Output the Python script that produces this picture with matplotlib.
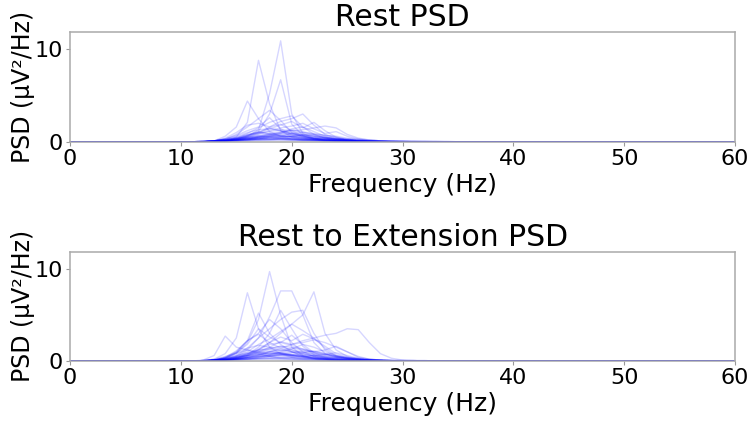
import numpy as np
import matplotlib.pyplot as plt

# PSD curves, one row per trace, values at 10..35 Hz.
# Outside that band every trace sits on zero (0 Hz and 60 Hz ends added below).
band_freqs = list(range(10, 36))

rest_psd = [
    [0, 0, 0, 0.1, 0.2, 0.3, 0.6, 1.3, 5.2, 10.9, 3.0, 0.9, 0.4, 0.3, 0.2, 0.1, 0.1, 0.05, 0, 0, 0, 0, 0, 0, 0, 0],
    [0, 0, 0, 0.1, 0.2, 0.5, 2.1, 8.8, 4.1, 1.2, 0.5, 0.3, 0.2, 0.1, 0.1, 0.05, 0, 0, 0, 0, 0, 0, 0, 0, 0, 0],
    [0, 0, 0, 0, 0.1, 0.3, 0.7, 1.1, 3.0, 6.7, 1.9, 0.7, 0.3, 0.2, 0.1, 0.1, 0.05, 0, 0, 0, 0, 0, 0, 0, 0, 0],
    [0, 0, 0, 0.1, 0.6, 1.6, 4.4, 2.5, 1.1, 0.6, 0.3, 0.2, 0.1, 0.1, 0.05, 0, 0, 0, 0, 0, 0, 0, 0, 0, 0, 0],
    [0, 0, 0, 0.1, 0.3, 0.8, 1.6, 2.5, 3.4, 2.3, 1.0, 0.5, 0.3, 0.2, 0.1, 0.05, 0, 0, 0, 0, 0, 0, 0, 0, 0, 0],
    [0, 0, 0, 0, 0.1, 0.3, 0.6, 1.0, 1.6, 2.2, 2.5, 3.0, 1.8, 0.8, 0.4, 0.2, 0.1, 0.05, 0, 0, 0, 0, 0, 0, 0, 0],
    [0, 0, 0, 0.1, 0.2, 0.4, 0.9, 1.5, 2.1, 2.5, 2.8, 1.6, 0.8, 0.4, 0.2, 0.1, 0.05, 0, 0, 0, 0, 0, 0, 0, 0, 0],
    [0, 0, 0, 0, 0.1, 0.2, 0.3, 0.5, 0.8, 1.0, 1.2, 1.3, 1.5, 1.7, 1.5, 0.8, 0.4, 0.2, 0.1, 0.05, 0, 0, 0, 0, 0, 0],
    [0, 0, 0, 0.1, 0.4, 1.0, 1.8, 2.0, 1.6, 1.9, 1.2, 0.6, 0.3, 0.2, 0.1, 0.05, 0, 0, 0, 0, 0, 0, 0, 0, 0, 0],
    [0, 0, 0, 0, 0.1, 0.3, 0.5, 0.9, 1.4, 1.8, 2.2, 1.5, 2.1, 1.2, 0.5, 0.2, 0.1, 0.05, 0, 0, 0, 0, 0, 0, 0, 0],
    [0, 0, 0, 0.1, 0.3, 0.7, 1.2, 1.6, 2.6, 1.4, 0.8, 0.6, 0.4, 0.3, 0.2, 0.1, 0.05, 0, 0, 0, 0, 0, 0, 0, 0, 0],
    [0, 0, 0, 0, 0.1, 0.2, 0.5, 0.8, 1.2, 1.5, 1.7, 2.0, 1.4, 0.9, 1.1, 0.6, 0.3, 0.1, 0.05, 0, 0, 0, 0, 0, 0, 0],
    [0, 0, 0.05, 0.1, 0.3, 0.6, 1.0, 1.3, 1.4, 1.2, 0.9, 0.6, 0.4, 0.3, 0.2, 0.1, 0.05, 0, 0, 0, 0, 0, 0, 0, 0, 0],
    [0, 0, 0, 0.1, 0.2, 0.4, 0.7, 0.9, 1.1, 1.3, 1.2, 1.0, 0.7, 0.5, 0.3, 0.2, 0.1, 0.05, 0, 0, 0, 0, 0, 0, 0, 0],
    [0, 0, 0.05, 0.1, 0.2, 0.4, 0.5, 0.7, 0.8, 0.9, 0.8, 0.7, 0.6, 0.5, 0.4, 0.3, 0.2, 0.1, 0.1, 0.05, 0.05, 0, 0, 0, 0, 0],
    [0, 0, 0, 0.05, 0.1, 0.2, 0.4, 0.6, 0.9, 1.1, 1.0, 0.8, 0.6, 0.4, 0.3, 0.2, 0.1, 0.05, 0, 0, 0, 0, 0, 0, 0, 0],
    [0, 0, 0.05, 0.1, 0.3, 0.5, 0.8, 1.0, 0.9, 0.7, 0.5, 0.4, 0.3, 0.2, 0.1, 0.05, 0, 0, 0, 0, 0, 0, 0, 0, 0, 0],
    [0, 0, 0, 0.05, 0.1, 0.2, 0.3, 0.5, 0.6, 0.8, 0.9, 1.0, 0.9, 0.7, 0.5, 0.3, 0.2, 0.1, 0.05, 0, 0, 0, 0, 0, 0, 0],
    [0, 0, 0, 0.05, 0.1, 0.2, 0.3, 0.4, 0.5, 0.6, 0.6, 0.5, 0.5, 0.4, 0.3, 0.3, 0.2, 0.2, 0.1, 0.1, 0.05, 0.05, 0, 0, 0, 0],
    [0, 0, 0.05, 0.1, 0.2, 0.3, 0.5, 0.6, 0.7, 0.6, 0.5, 0.4, 0.3, 0.2, 0.2, 0.1, 0.1, 0.05, 0, 0, 0, 0, 0, 0, 0, 0],
    [0, 0, 0, 0, 0.05, 0.1, 0.2, 0.3, 0.4, 0.5, 0.6, 0.7, 0.8, 0.7, 0.6, 0.4, 0.3, 0.2, 0.1, 0.1, 0.05, 0, 0, 0, 0, 0],
    [0, 0, 0.05, 0.1, 0.2, 0.3, 0.4, 0.4, 0.5, 0.4, 0.4, 0.3, 0.3, 0.2, 0.2, 0.1, 0.1, 0.05, 0.05, 0, 0, 0, 0, 0, 0, 0],
    [0, 0, 0, 0.05, 0.1, 0.2, 0.3, 0.4, 0.3, 0.3, 0.2, 0.2, 0.2, 0.1, 0.1, 0.1, 0.05, 0.05, 0, 0, 0, 0, 0, 0, 0, 0],
    [0, 0, 0, 0.05, 0.1, 0.3, 0.6, 1.0, 1.5, 1.2, 0.7, 0.4, 0.2, 0.1, 0.1, 0.05, 0, 0, 0, 0, 0, 0, 0, 0, 0, 0],
    [0, 0, 0, 0, 0.05, 0.1, 0.2, 0.4, 0.6, 0.9, 1.3, 1.1, 0.8, 0.5, 0.3, 0.2, 0.1, 0.05, 0, 0, 0, 0, 0, 0, 0, 0],
    [0, 0, 0.05, 0.1, 0.15, 0.2, 0.25, 0.3, 0.35, 0.35, 0.3, 0.3, 0.25, 0.2, 0.2, 0.15, 0.1, 0.1, 0.05, 0.05, 0.05, 0, 0, 0, 0, 0],
    [0, 0, 0, 0.05, 0.1, 0.15, 0.2, 0.3, 0.3, 0.4, 0.4, 0.3, 0.3, 0.3, 0.2, 0.2, 0.15, 0.1, 0.1, 0.05, 0.05, 0.05, 0.05, 0, 0, 0],
    [0, 0, 0, 0, 0.05, 0.1, 0.1, 0.2, 0.2, 0.3, 0.3, 0.2, 0.2, 0.2, 0.2, 0.15, 0.1, 0.1, 0.1, 0.05, 0.05, 0.05, 0.05, 0.05, 0, 0],
    [0, 0, 0.05, 0.1, 0.2, 0.4, 0.7, 1.1, 0.8, 0.6, 0.9, 0.7, 0.4, 0.2, 0.1, 0.05, 0, 0, 0, 0, 0, 0, 0, 0, 0, 0],
    [0, 0, 0, 0.05, 0.1, 0.2, 0.4, 0.5, 0.7, 1.0, 1.4, 1.6, 1.1, 0.6, 0.3, 0.2, 0.1, 0.05, 0, 0, 0, 0, 0, 0, 0, 0],
    [0, 0, 0, 0.05, 0.1, 0.15, 0.2, 0.25, 0.3, 0.3, 0.25, 0.2, 0.2, 0.15, 0.1, 0.1, 0.05, 0.05, 0, 0, 0, 0, 0, 0, 0, 0],
    [0, 0, 0, 0, 0.05, 0.05, 0.1, 0.15, 0.2, 0.2, 0.2, 0.15, 0.15, 0.1, 0.1, 0.1, 0.05, 0.05, 0.05, 0, 0, 0, 0, 0, 0, 0],
    [0, 0, 0.05, 0.1, 0.2, 0.3, 0.3, 0.2, 0.2, 0.2, 0.15, 0.1, 0.1, 0.1, 0.05, 0.05, 0, 0, 0, 0, 0, 0, 0, 0, 0, 0],
    [0, 0, 0, 0.05, 0.1, 0.2, 0.3, 0.5, 0.6, 0.5, 0.6, 0.8, 0.6, 0.4, 0.3, 0.2, 0.1, 0.1, 0.05, 0.05, 0, 0, 0, 0, 0, 0],
    [0, 0, 0, 0, 0.05, 0.1, 0.2, 0.3, 0.5, 0.7, 0.6, 0.5, 0.4, 0.4, 0.3, 0.2, 0.15, 0.1, 0.1, 0.05, 0.05, 0.05, 0.05, 0.05, 0.05, 0],
    [0, 0, 0, 0.05, 0.1, 0.2, 0.4, 0.6, 0.5, 0.4, 0.3, 0.2, 0.15, 0.1, 0.05, 0.05, 0, 0, 0, 0, 0, 0, 0, 0, 0, 0],
]

extension_psd = [
    [0, 0, 0, 0.1, 0.3, 0.8, 2.0, 4.5, 9.7, 5.0, 1.5, 0.6, 0.3, 0.2, 0.1, 0.05, 0, 0, 0, 0, 0, 0, 0, 0, 0, 0],
    [0, 0, 0, 0.2, 0.8, 2.5, 7.4, 3.5, 1.5, 0.8, 0.4, 0.2, 0.1, 0.05, 0, 0, 0, 0, 0, 0, 0, 0, 0, 0, 0, 0],
    [0, 0, 0, 0.1, 0.2, 0.5, 1.2, 2.5, 4.8, 7.6, 7.6, 5.0, 2.0, 0.8, 0.4, 0.2, 0.1, 0.05, 0, 0, 0, 0, 0, 0, 0, 0],
    [0, 0, 0, 0, 0.1, 0.3, 0.6, 1.2, 2.0, 3.0, 4.0, 5.0, 7.5, 3.0, 1.2, 0.5, 0.2, 0.1, 0, 0, 0, 0, 0, 0, 0, 0],
    [0, 0, 0, 0.1, 0.3, 0.6, 1.4, 2.5, 3.5, 4.5, 5.3, 5.5, 3.0, 1.2, 0.5, 0.2, 0.1, 0.05, 0, 0, 0, 0, 0, 0, 0, 0],
    [0, 0, 0, 0.1, 0.4, 1.0, 2.2, 3.0, 4.5, 3.5, 2.0, 1.0, 0.5, 0.2, 0.1, 0.05, 0, 0, 0, 0, 0, 0, 0, 0, 0, 0],
    [0, 0, 0.1, 0.6, 2.7, 1.5, 1.2, 0.8, 0.5, 0.3, 0.2, 0.1, 0.05, 0, 0, 0, 0, 0, 0, 0, 0, 0, 0, 0, 0, 0],
    [0, 0, 0, 0.05, 0.1, 0.2, 0.4, 0.7, 1.0, 1.4, 1.8, 2.2, 2.5, 2.8, 3.0, 3.5, 3.4, 2.0, 0.8, 0.3, 0.1, 0.05, 0, 0, 0, 0],
    [0, 0, 0, 0.1, 0.3, 0.9, 1.8, 3.5, 2.6, 2.0, 2.8, 1.8, 0.9, 0.4, 0.2, 0.1, 0.05, 0, 0, 0, 0, 0, 0, 0, 0, 0],
    [0, 0, 0, 0.1, 0.2, 0.5, 1.0, 1.8, 2.4, 3.2, 4.0, 3.3, 2.5, 1.4, 0.6, 0.3, 0.1, 0.05, 0, 0, 0, 0, 0, 0, 0, 0],
    [0, 0, 0, 0.1, 0.2, 0.4, 0.8, 1.3, 2.0, 2.6, 2.2, 2.9, 2.4, 1.6, 0.8, 0.4, 0.2, 0.1, 0.05, 0, 0, 0, 0, 0, 0, 0],
    [0, 0, 0, 0.1, 0.4, 1.1, 2.2, 2.9, 2.0, 1.4, 1.0, 0.6, 0.3, 0.2, 0.1, 0.05, 0, 0, 0, 0, 0, 0, 0, 0, 0, 0],
    [0, 0, 0, 0.05, 0.1, 0.3, 0.6, 1.0, 1.5, 2.1, 1.8, 2.0, 2.3, 2.0, 1.5, 1.0, 0.5, 0.2, 0.1, 0.05, 0, 0, 0, 0, 0, 0],
    [0, 0, 0, 0.1, 0.2, 0.4, 0.7, 1.2, 1.8, 2.0, 1.7, 1.3, 1.0, 1.2, 1.6, 1.0, 0.4, 0.2, 0.1, 0.05, 0, 0, 0, 0, 0, 0],
    [0, 0, 0, 0.1, 0.3, 0.9, 2.2, 5.2, 3.0, 1.8, 1.0, 0.5, 0.2, 0.1, 0.05, 0, 0, 0, 0, 0, 0, 0, 0, 0, 0, 0],
    [0, 0, 0, 0, 0.1, 0.3, 0.7, 1.5, 3.0, 5.5, 3.5, 1.6, 0.7, 0.3, 0.1, 0.05, 0, 0, 0, 0, 0, 0, 0, 0, 0, 0],
    [0, 0, 0.05, 0.2, 0.5, 0.9, 1.4, 1.7, 1.5, 1.2, 1.0, 0.8, 0.6, 0.4, 0.2, 0.1, 0.05, 0, 0, 0, 0, 0, 0, 0, 0, 0],
    [0, 0, 0, 0.1, 0.2, 0.4, 0.8, 1.1, 1.4, 1.6, 1.5, 1.3, 1.0, 0.7, 0.5, 0.3, 0.2, 0.1, 0.05, 0, 0, 0, 0, 0, 0, 0],
    [0, 0, 0.05, 0.1, 0.3, 0.6, 0.9, 1.2, 1.3, 1.1, 1.2, 1.0, 0.7, 0.5, 0.3, 0.2, 0.1, 0.05, 0, 0, 0, 0, 0, 0, 0, 0],
    [0, 0, 0, 0.05, 0.1, 0.3, 0.5, 0.7, 1.0, 1.2, 1.4, 1.2, 0.9, 0.6, 0.4, 0.3, 0.2, 0.1, 0.05, 0.05, 0, 0, 0, 0, 0, 0],
    [0, 0, 0.05, 0.1, 0.3, 0.5, 0.8, 0.9, 0.8, 0.7, 0.6, 0.5, 0.4, 0.3, 0.2, 0.1, 0.05, 0, 0, 0, 0, 0, 0, 0, 0, 0],
    [0, 0, 0, 0.05, 0.1, 0.2, 0.4, 0.6, 0.8, 0.9, 1.0, 0.9, 0.8, 0.7, 0.5, 0.4, 0.3, 0.2, 0.1, 0.05, 0.05, 0, 0, 0, 0, 0],
    [0, 0, 0.05, 0.1, 0.2, 0.4, 0.6, 0.7, 0.6, 0.6, 0.5, 0.5, 0.4, 0.3, 0.3, 0.2, 0.1, 0.1, 0.05, 0, 0, 0, 0, 0, 0, 0],
    [0, 0, 0, 0.05, 0.1, 0.2, 0.3, 0.4, 0.5, 0.6, 0.6, 0.7, 0.6, 0.5, 0.4, 0.3, 0.2, 0.1, 0.1, 0.05, 0.05, 0.05, 0, 0, 0, 0],
    [0, 0, 0.05, 0.1, 0.2, 0.3, 0.4, 0.5, 0.5, 0.4, 0.4, 0.3, 0.3, 0.2, 0.2, 0.1, 0.1, 0.05, 0, 0, 0, 0, 0, 0, 0, 0],
    [0, 0, 0, 0.05, 0.1, 0.15, 0.2, 0.3, 0.35, 0.4, 0.4, 0.35, 0.3, 0.3, 0.25, 0.2, 0.15, 0.1, 0.1, 0.05, 0.05, 0.05, 0.05, 0, 0, 0],
    [0, 0, 0, 0.05, 0.1, 0.2, 0.5, 0.9, 1.3, 1.6, 1.2, 0.8, 0.5, 0.3, 0.2, 0.1, 0.05, 0, 0, 0, 0, 0, 0, 0, 0, 0],
    [0, 0, 0, 0, 0.05, 0.1, 0.2, 0.4, 0.7, 1.0, 1.3, 1.8, 1.5, 1.0, 0.6, 0.3, 0.2, 0.1, 0.05, 0, 0, 0, 0, 0, 0, 0],
    [0, 0, 0.05, 0.1, 0.2, 0.25, 0.3, 0.3, 0.3, 0.25, 0.25, 0.2, 0.2, 0.15, 0.1, 0.1, 0.05, 0.05, 0, 0, 0, 0, 0, 0, 0, 0],
    [0, 0, 0, 0.05, 0.1, 0.1, 0.15, 0.2, 0.25, 0.3, 0.3, 0.25, 0.2, 0.2, 0.15, 0.15, 0.1, 0.1, 0.05, 0.05, 0.05, 0.05, 0, 0, 0, 0],
    [0, 0, 0.05, 0.15, 0.4, 0.8, 1.2, 1.0, 0.7, 0.9, 0.6, 0.4, 0.2, 0.1, 0.05, 0, 0, 0, 0, 0, 0, 0, 0, 0, 0, 0],
    [0, 0, 0, 0.05, 0.1, 0.2, 0.3, 0.5, 0.6, 0.8, 0.7, 0.9, 1.1, 0.8, 0.5, 0.3, 0.15, 0.1, 0.05, 0, 0, 0, 0, 0, 0, 0],
    [0, 0, 0, 0.05, 0.1, 0.2, 0.4, 0.6, 0.9, 0.8, 0.6, 0.5, 0.6, 0.7, 0.9, 0.6, 0.3, 0.15, 0.1, 0.05, 0, 0, 0, 0, 0, 0],
    [0, 0, 0.05, 0.1, 0.15, 0.2, 0.2, 0.2, 0.2, 0.15, 0.15, 0.1, 0.1, 0.1, 0.05, 0.05, 0, 0, 0, 0, 0, 0, 0, 0, 0, 0],
    [0, 0, 0, 0.05, 0.1, 0.3, 0.6, 1.0, 1.1, 0.9, 0.7, 0.5, 0.3, 0.2, 0.1, 0.05, 0, 0, 0, 0, 0, 0, 0, 0, 0, 0],
    [0, 0, 0, 0, 0.05, 0.1, 0.2, 0.3, 0.5, 0.7, 0.9, 1.1, 1.0, 0.8, 0.6, 0.4, 0.25, 0.15, 0.1, 0.05, 0.05, 0, 0, 0, 0, 0],
    [0, 0, 0.05, 0.1, 0.2, 0.4, 0.6, 0.8, 1.0, 0.8, 0.6, 0.4, 0.3, 0.2, 0.1, 0.05, 0, 0, 0, 0, 0, 0, 0, 0, 0, 0],
    [0, 0, 0, 0.05, 0.1, 0.2, 0.35, 0.5, 0.6, 0.7, 0.7, 0.6, 0.5, 0.4, 0.35, 0.25, 0.2, 0.1, 0.1, 0.05, 0.05, 0.05, 0.05, 0, 0, 0],
]

titles = ["Rest PSD", "Rest to Extension PSD"]
x_label = "Frequency (Hz)"
y_label = "PSD (µV²/Hz)"


def full_trace(values):
    # pad the band with the flat zero line seen from 0 to 60 Hz
    f = np.array([0] + band_freqs + [60])
    v = np.array([0] + list(values) + [0])
    return f, v


fig = plt.figure(figsize=(7.49, 4.22), dpi=100)
ax1 = fig.add_axes([0.0935, 0.664, 0.888, 0.260])
ax2 = fig.add_axes([0.0935, 0.1445, 0.888, 0.259])

for ax, data, title in zip([ax1, ax2], [rest_psd, extension_psd], titles):
    for row in data:
        f, v = full_trace(row)
        ax.plot(f, v, color="blue", alpha=0.16, linewidth=1.0, zorder=1)
    ax.set_xlim(0, 60)
    ax.set_ylim(0, 11.85)
    ax.set_xticks([0, 10, 20, 30, 40, 50, 60])
    ax.set_yticks([0, 10])
    ax.set_title(title, fontsize=21.5, pad=2)
    ax.set_xlabel(x_label, fontsize=18, labelpad=3)
    ax.set_ylabel(y_label, fontsize=17, labelpad=0)
    ax.tick_params(labelsize=16, color="#999999", length=3, pad=2)
    for s in ax.spines.values():
        s.set_color("#aaaaaa")
        s.set_linewidth(1.1)
        s.set_zorder(3)

plt.savefig("out.png", dpi=100)
